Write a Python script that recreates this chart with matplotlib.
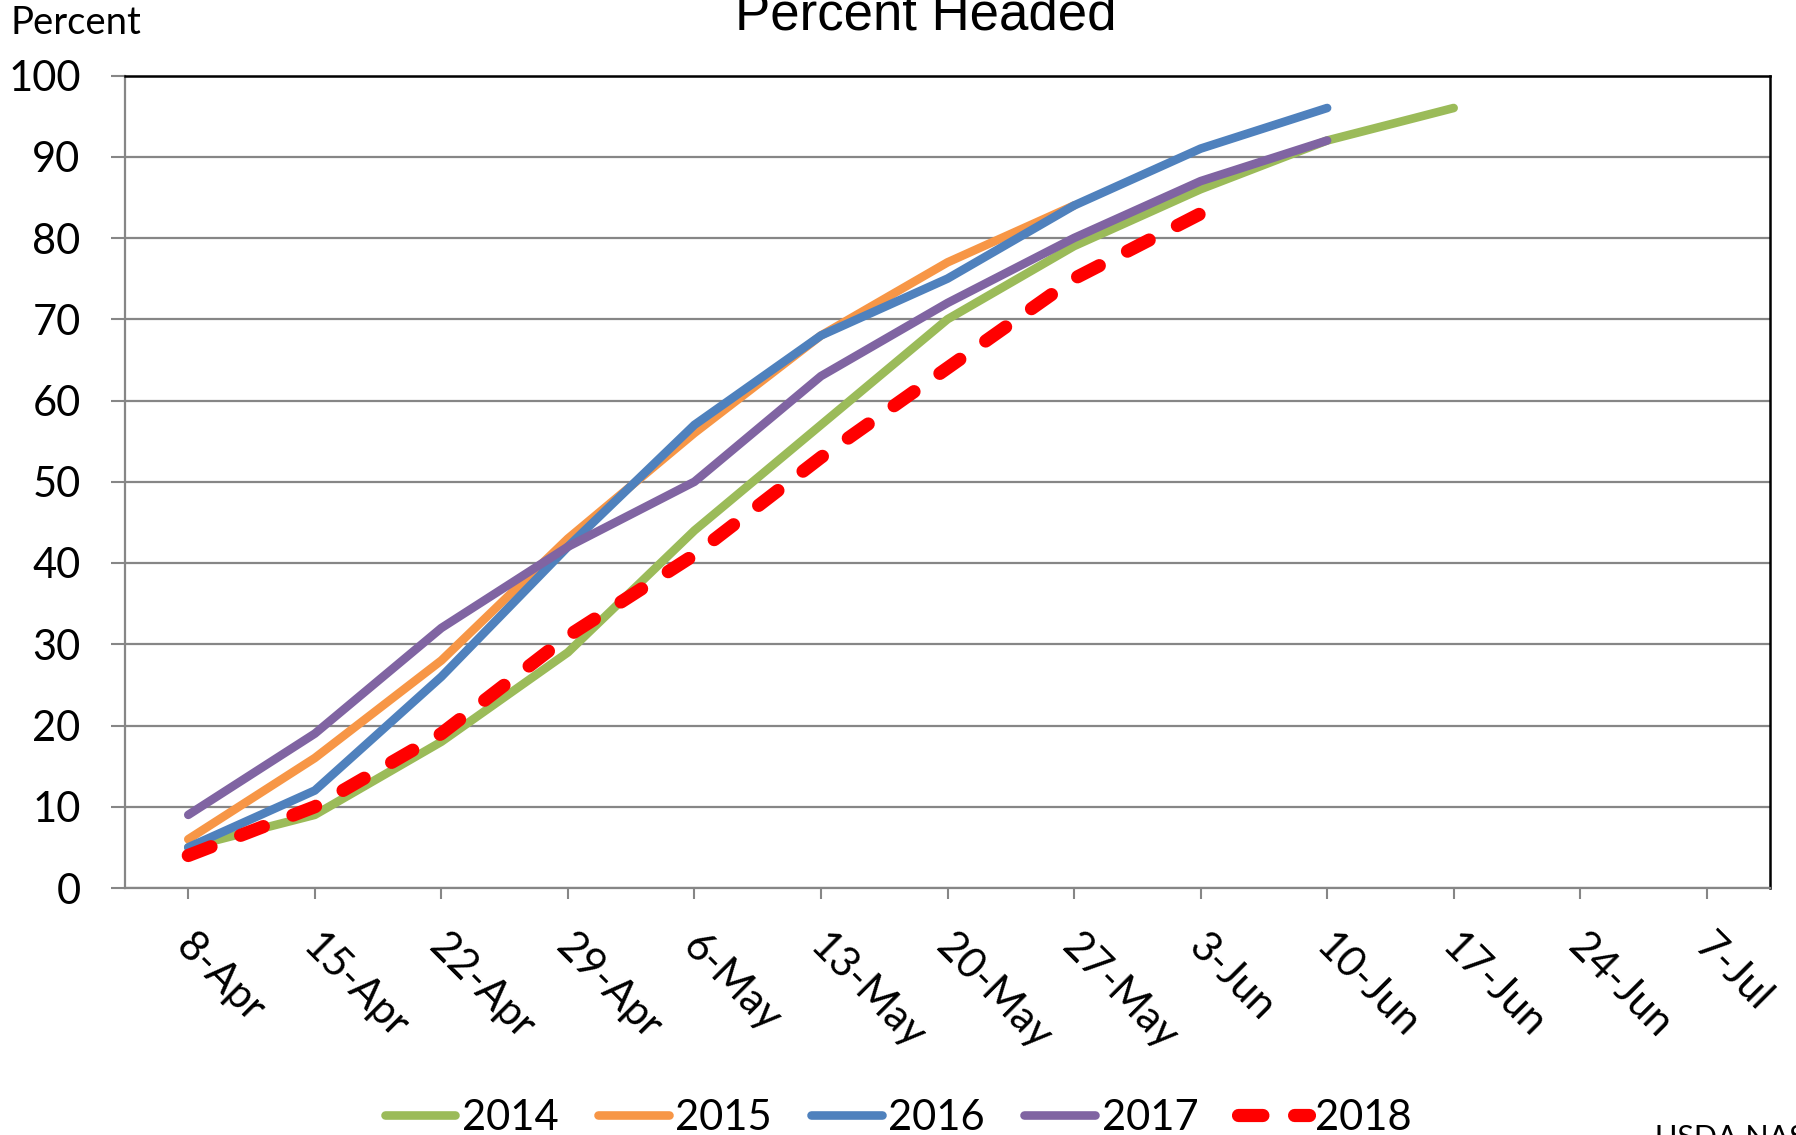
import matplotlib as mplt
mplt.use('Agg')
import matplotlib.pyplot as plt
from matplotlib.transforms import ScaledTranslation
import numpy as np

# fonts
mplt.rcParams['font.family'] = ['Lato', 'DejaVu Sans']

weeks = ["8-Apr", "15-Apr", "22-Apr", "29-Apr", "6-May", "13-May", "20-May",
         "27-May", "3-Jun", "10-Jun", "17-Jun", "24-Jun", "7-Jul"]

pct_2014 = [5, 9, 18, 29, 44, 57, 70, 79, 86, 92, 96]
pct_2015 = [6, 16, 28, 43, 56, 68, 77, 84]
pct_2016 = [5, 12, 26, 42, 57, 68, 75, 84, 91, 96]
pct_2017 = [9, 19, 32, 42, 50, 63, 72, 80, 87, 92]
pct_2018 = [4, 10, 19, 31, 41, 53, 64, 75, 83]

series = [
    ("2014", pct_2014, "#9BBB59"),
    ("2015", pct_2015, "#F79646"),
    ("2016", pct_2016, "#4F81BD"),
    ("2017", pct_2017, "#8064A2"),
]

grid_gray = "#868686"

W, H = 1796, 1135
fig = plt.figure(figsize=(W / 100, H / 100), dpi=100)
ax = fig.add_axes([125 / W, 1 - 888 / H, (1770 - 125) / W, (888 - 75.5) / H])

for label, vals, color in series:
    x = np.arange(len(vals))
    ax.plot(x, vals, color=color, lw=6.2, label=label,
            solid_capstyle='round', solid_joinstyle='round', zorder=3)

x = np.arange(len(pct_2018))
ax.plot(x, pct_2018, color="#FF0000", lw=9.5, label="2018",
        dashes=(1.85, 2.4), dash_capstyle='round', zorder=4)

ax.set_xlim(-0.5, len(weeks) - 0.5)
ax.set_ylim(0, 100)
ax.set_yticks(np.arange(0, 101, 10))
ax.set_xticks(np.arange(len(weeks)))
ax.set_xticklabels(weeks, rotation=-45, ha='left', va='top',
                   rotation_mode='anchor', fontsize=30)
ax.tick_params(axis='y', labelsize=30, length=10, width=1.5,
               color=grid_gray, pad=22)
ax.tick_params(axis='x', length=8, width=1.5, color=grid_gray, pad=20)

# nudge the rotated date labels a little to the right
shift = ScaledTranslation(8 / 100, 0, fig.dpi_scale_trans)
for lab in ax.get_xticklabels():
    lab.set_transform(lab.get_transform() + shift)

ax.grid(axis='y', color=grid_gray, lw=1.6)
ax.set_axisbelow(True)

ax.spines['left'].set_color(grid_gray)
ax.spines['bottom'].set_color(grid_gray)
ax.spines['left'].set_linewidth(1.6)
ax.spines['bottom'].set_linewidth(1.6)
ax.spines['top'].set_color('black')
ax.spines['right'].set_color('black')
ax.spines['top'].set_linewidth(1.8)
ax.spines['right'].set_linewidth(1.8)

fig.text(926 / W, 1 - 29 / H, "Percent Headed", ha='center', va='baseline',
         fontsize=38, family=['Liberation Sans', 'DejaVu Sans'])
fig.text(11 / W, 1 - 34 / H, "Percent", ha='left', va='baseline', fontsize=27.5)
fig.text(1655 / W, 1 - 1124 / H, "USDA NASS", ha='left', va='top', fontsize=22)

fig.legend(loc='center', bbox_to_anchor=(0.5, 1 - 1117.5 / H), ncol=5,
           frameon=False, fontsize=30, handlelength=1.7, handletextpad=0.15,
           columnspacing=0.95)

fig.savefig("out.png", dpi=100)
